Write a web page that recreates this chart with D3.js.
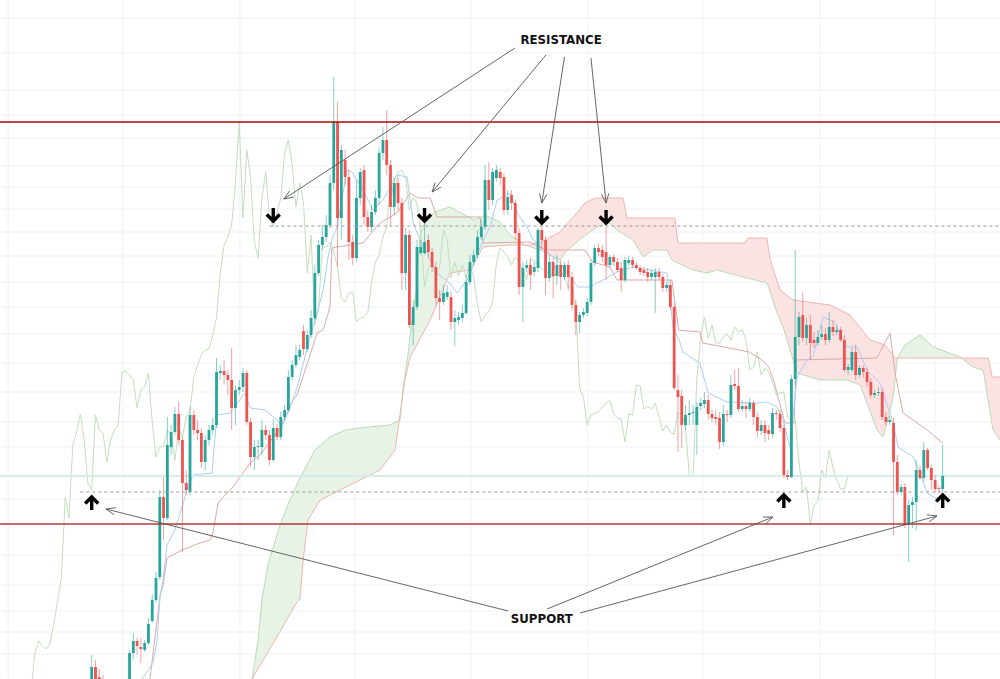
<!DOCTYPE html>
<html><head><meta charset="utf-8">
<script src="https://cdn.jsdelivr.net/npm/d3@7"></script>
<style>html,body{margin:0;padding:0;background:#fff}svg{display:block}</style>
</head><body>
<svg id="chart" width="1000" height="679"></svg>
<script>
// ---------- DATA (price units are chart units) ----------
// candles: [open, high, low, close], one per daily bar, bar 0 first
const candles = [
[65,95,60,83],[83,90,60,67],[73,81,60,68],[68,75,55,60],[60,66,50,55],[55,62,45,50],[50,58,44,54],[54,60,48,58],[58,64,50,56],[56,64,50,60],
[60,100,58,97],[97,117,90,109],[109,112,95,104],[103,112,87,101],[100,110,98,107],[107,132,105,126],[129,156,127,150],[150,178,148,172],[173,260,170,253],[253,273,210,232],
[232,333,230,305],[303,325,295,318],[318,343,315,336],[336,348,305,310],[310,313,198,267],[267,280,255,260],[258,343,255,335],[335,340,315,320],[320,330,310,317],[317,322,282,288],
[288,315,280,310],[310,325,305,320],[320,332,315,325],[325,392,322,378],[377,385,370,379],[379,390,365,375],[375,380,355,370],[370,402,320,342],[342,365,325,360],[360,370,355,363],
[363,382,358,377],[377,380,325,328],[328,332,283,293],[293,310,280,303],[303,310,290,304],[303,330,295,320],[320,325,310,315],[315,320,285,290],[290,330,288,322],[322,326,310,313],
[313,338,310,333],[333,345,330,340],[340,380,338,373],[373,390,370,385],[385,405,382,395],[393,405,390,400],[419,425,395,401],[401,420,398,415],[415,440,412,432],[432,485,430,477],
[477,510,474,505],[505,525,500,513],[513,535,508,525],[525,575,522,567],[567,673,560,628],[628,648,483,532],[532,605,510,600],[590,600,565,573],[573,580,490,508],[508,515,485,492],
[492,570,488,552],[552,582,545,578],[580,585,525,533],[533,540,518,523],[523,545,518,538],[538,560,535,552],[552,602,545,597],[597,623,590,610],[610,640,575,585],[585,590,525,543],
[543,572,535,567],[567,572,540,547],[547,552,460,477],[477,522,460,515],[515,520,422,425],[425,450,405,443],[443,510,440,503],[497,510,495,503],[497,527,495,508],[510,515,492,498],
[498,502,478,483],[483,488,445,452],[452,460,430,448],[448,465,445,457],[453,465,450,458],[453,458,420,428],[428,440,404,432],[430,438,425,433],[432,445,428,437],[437,475,435,468],
[468,495,465,488],[488,500,485,495],[495,520,492,513],[513,530,510,523],[523,585,520,570],[570,588,540,550],[550,582,545,578],[572,585,568,580],[578,582,565,572],[573,577,535,540],
[540,560,535,553],[555,560,540,547],[547,550,510,517],[517,522,455,463],[463,488,428,482],[482,490,478,485],[485,492,460,475],[478,488,474,483],[482,522,478,520],[520,524,500,510],
[510,514,455,472],[472,495,468,488],[488,492,452,474],[474,495,465,485],[485,490,460,473],[473,488,470,485],[485,490,460,473],[473,478,440,445],[445,450,415,428],[428,438,417,435],
[435,442,432,438],[437,452,434,448],[448,490,445,487],[487,505,484,502],[502,506,494,498],[500,505,488,493],[498,523,470,485],[485,495,482,493],[493,496,484,488],[488,492,478,480],
[482,488,458,470],[470,493,468,490],[487,494,484,490],[490,493,482,485],[485,488,480,482],[482,485,475,478],[480,483,474,477],[478,482,468,473],[473,480,470,477],[473,482,437,478],
[478,482,470,473],[473,476,458,462],[462,468,458,465],[465,470,440,443],[443,447,360,362],[360,375,298,353],[354,360,302,325],[325,345,320,335],[335,350,325,337],[337,345,325,338],
[325,348,295,343],[344,352,340,347],[346,358,342,350],[350,355,330,336],[336,340,328,332],[333,340,325,331],[332,338,301,308],[308,345,304,336],[336,340,328,335],[335,375,332,365],
[366,380,360,364],[364,382,338,341],[341,350,338,344],[344,348,332,341],[341,352,338,347],[347,350,325,333],[333,338,313,319],[319,330,315,325],[325,330,308,317],[320,325,310,316],
[316,342,312,337],[337,340,330,336],[336,340,318,322],[322,325,272,275],[275,280,270,273],[273,375,272,371],[371,500,365,413],[413,438,405,433],[435,458,408,412],[412,432,405,425],
[425,435,390,407],[410,418,402,407],[407,420,404,413],[413,425,410,416],[416,422,405,410],[410,438,407,423],[423,430,414,418],[418,425,415,420],[420,423,408,410],[410,415,378,380],
[380,386,375,383],[380,402,378,398],[398,405,370,375],[375,385,372,382],[382,385,372,378],[378,382,363,368],[368,372,352,355],[355,360,352,357],[357,363,354,358],[358,362,330,333],
[333,338,325,328],[328,334,325,330],[327,332,215,288],[288,295,255,258],[258,266,255,263],[263,267,222,225],[225,250,188,245],[245,253,222,248],[248,290,220,280],[280,285,270,272],
[272,308,268,300],[300,302,280,282],[282,285,260,270],[270,275,258,261],[262,265,258,261],[261,305,258,274]
];

// Ichimoku lines: [bar, value]
const tenkan = [[12.8,68],[16.2,87],[17.3,110],[18.1,155],[18.9,170],[19.9,205],[22,220],[23.9,243],[25.2,260],[26.8,275],[31.8,277],[33.1,335],[36.6,337],[40.5,357],[41.9,342],[45.8,340],[49,330],[50.3,323],[52.4,342],[54.3,362],[57.7,413],[59.6,437],[61.2,460],[62.5,493],[63.5,510],[64.9,523],[67.5,580],[68.8,578],[71.7,560],[74.4,540],[77,550],[80.7,575],[83.4,573],[85,527],[86.8,510],[91.3,477],[94.7,467],[96.6,457],[99.2,470],[100.8,483],[102.7,503],[105.3,523],[107.2,550],[110.6,557],[112.5,537],[115.1,523],[116.7,510],[123.8,487],[126.5,473],[128.6,463],[131.8,463],[133.6,467],[136.2,472],[138.9,478],[143.1,483],[152.1,477],[153.7,423],[155.6,407],[156.3,398],[160.8,387],[163,357],[168,348],[175.9,347],[178.6,348],[181.2,343],[182.8,330],[184.6,303],[186.5,373],[189.1,390],[190.7,393],[193.4,433],[195.2,430],[196.5,427],[199.7,403],[202.4,403],[205,380],[208.4,367],[209.2,358],[211.9,327],[213.2,303],[215.6,297],[217.2,293],[219,277],[220.9,257],[223,252],[225,253]];
const kijun = [[15.4,71],[18.1,155],[18.9,165],[19.9,192],[23.9,200],[28.6,207],[31.3,210],[32.1,218],[33.4,247],[35.8,257],[37.4,263],[41.1,283],[41.9,287],[44.5,295],[49.8,322],[53.2,350],[54.3,355],[59.6,417],[61.2,420],[63,443],[63.5,502],[64.9,503],[71.7,507],[76.2,527],[80.7,537],[84.2,557],[86.3,552],[89.5,552],[91.3,533],[102.7,533],[103.5,507],[115.9,508],[119.9,500],[130.4,500],[132.5,488],[137,483],[138.9,470],[153.4,470],[154.4,442],[155.2,420],[160.8,418],[161.6,407],[171.2,400],[173.8,398],[177.2,390],[179,383],[180.3,370],[181.8,348],[183.3,327],[185.7,327],[186.3,390],[207.6,392],[211.1,417],[212.4,377],[214.5,337],[220.9,320],[225,307]];
const spanA = [[42.4,71],[44,110],[45,150],[46.6,185],[49.8,225],[52.4,250],[55.1,272],[59,300],[63,313],[67,320],[70.9,322],[78.9,325],[81.5,330],[82.3,360],[83.6,395],[84.7,430],[85.8,460],[86.8,515],[88.1,528],[90.8,538],[94.7,543],[98.7,535],[101.3,530],[104,535],[108,528],[110.6,515],[114.6,505],[118.5,500],[123.8,490],[125.7,500],[129.9,513],[133.6,523],[137,527],[138.9,520],[143.1,510],[145.8,493],[148.4,500],[152.1,500],[153.4,490],[159,480],[162.7,477],[165.3,480],[172.2,473],[178.6,467],[181.2,437],[182.8,423],[186.5,377],[192.6,370],[199.7,370],[203.2,365],[205,347],[207.6,320],[209.2,313],[210.5,330],[211.9,353],[213,392],[215,405],[219,415],[222.5,403],[229.6,393],[233,383],[235.7,380],[238.3,320],[240.2,310]];
const spanB = [[42.4,71],[48.5,110],[53.8,145],[55.1,152],[55.9,190],[57.2,230],[60.4,250],[65.7,260],[70.9,270],[76.2,280],[80.2,300],[82.8,370],[84.2,393],[89.5,430],[94.7,477],[100,480],[103.5,503],[110.6,505],[115.9,505],[119.9,510],[123.8,518],[127.8,535],[130.4,547],[133.1,552],[140.5,552],[141.5,532],[154.2,532],[155,507],[172.7,507],[173.5,512],[178.5,512],[179.4,490],[182,460],[185.4,450],[195.2,445],[200.5,435],[205.8,410],[209.8,405],[212.4,392],[237,392],[238.1,373],[240.2,373]];
const laggingShift = 25; // lagging span = closes plotted 25 bars back

// grid
const gridBars = [-22.1, 8.3, 39.2, 69.6, 100.3, 131.2, 161.6, 192.6, 223];
const gridPrices = [732, 697, 660, 635, 612, 584, 563, 541, 518, 494, 468, 443, 416, 387, 358, 328, 303, 251, 195, 165, 139, 118, 96];

// levels
const resistanceLevel = 628;
const supportLevel = 226;
const dashedLevels = [[524, 47], [258, -3]]; // [price, starting bar]

// markers [bar, price] (tip of arrow)
const downMarkers = [[48, 527], [88, 527], [119, 525], [136, 525]];
const upMarkers = [[0, 255], [183, 257], [225, 257]];

// annotations
const labelTexts = ["RESISTANCE", "SUPPORT"];
const labelAnchors = [[124.1, 706], [119, 127]];
const resistancePointers = [[[111.9,702],[50.8,551]], [[120.1,695],[90,558]], [[125,693],[119,547]], [[132,692],[136,547]]];
const supportPointers = [[[110.1,139],[3.8,241]], [[120.4,141],[180.1,233]], [[129.1,137],[223.5,234]]];

// ---------- DRAWING ----------
const W = 1000, H = 679;
const svg = d3.select("#chart");
const x = d3.scaleLinear().domain([0, 225]).range([91.7, 942.7]);
const y = d3.scaleLinear().domain([0, 750]).range([750, 0]);
const step = x(1) - x(0);

// grid
const g0 = svg.append("g");
g0.selectAll("line.v").data(gridBars).join("line")
  .attr("x1", d => x(d)).attr("x2", d => x(d)).attr("y1", 0).attr("y2", H)
  .attr("stroke", "#eef1f6").attr("stroke-width", 1);
g0.selectAll("line.h").data(gridPrices).join("line")
  .attr("x1", 0).attr("x2", W).attr("y1", d => y(d)).attr("y2", d => y(d))
  .attr("stroke", "#eef1f6").attr("stroke-width", 1);

// cloud
const defs = svg.append("defs");
const below = d3.area().x(d => x(d[0])).y0(H + 50).y1(d => y(d[1]));
const above = d3.area().x(d => x(d[0])).y0(-50).y1(d => y(d[1]));
defs.append("clipPath").attr("id", "belowA").append("path").attr("d", below(spanA));
defs.append("clipPath").attr("id", "belowB").append("path").attr("d", below(spanB));
svg.append("path").attr("d", above(spanB)).attr("clip-path", "url(#belowA)").attr("fill", "#e7f3e7");
svg.append("path").attr("d", above(spanA)).attr("clip-path", "url(#belowB)").attr("fill", "#fce3e3");

const line = d3.line().x(d => x(d[0])).y(d => y(d[1]));
svg.append("path").attr("d", line(spanA)).attr("fill", "none").attr("stroke", "#b9dcb6").attr("stroke-width", 1);
svg.append("path").attr("d", line(spanB)).attr("fill", "none").attr("stroke", "#f0b4b0").attr("stroke-width", 1);

// lagging span
const lagging = candles.map((c, i) => [i - laggingShift, c[3]]);
svg.append("path").attr("d", line(lagging)).attr("fill", "none").attr("stroke", "#c3dfba").attr("stroke-width", 1);
svg.append("path").attr("d", line(kijun)).attr("fill", "none").attr("stroke", "#dcaaa6").attr("stroke-width", 1);
svg.append("path").attr("d", line(tenkan)).attr("fill", "none").attr("stroke", "#a9cff3").attr("stroke-width", 1);

// last price line
const lastClose = candles[candles.length - 1][3];
svg.append("line").attr("x1", 0).attr("x2", W).attr("y1", y(lastClose)).attr("y2", y(lastClose))
  .attr("stroke", "#d6ecea").attr("stroke-width", 2);

// candles
const bw = step * 0.74;
const cg = svg.append("g");
cg.selectAll("line").data(candles).join("line")
  .attr("x1", (d, i) => x(i)).attr("x2", (d, i) => x(i))
  .attr("y1", d => y(d[1])).attr("y2", d => y(d[2]))
  .attr("stroke", d => d[3] >= d[0] ? "#26a69a" : "#ef5350").attr("stroke-opacity", 0.55).attr("stroke-width", 1);
cg.selectAll("rect").data(candles).join("rect")
  .attr("x", (d, i) => x(i) - bw / 2).attr("width", bw)
  .attr("y", d => y(Math.max(d[0], d[3])))
  .attr("height", d => Math.max(1, Math.abs(y(d[0]) - y(d[3]))))
  .attr("fill", d => d[3] >= d[0] ? "#26a69a" : "#ef5350");

// levels
svg.selectAll("line.lvl").data(dashedLevels).join("line")
  .attr("x1", d => x(d[1])).attr("x2", W).attr("y1", d => y(d[0])).attr("y2", d => y(d[0]))
  .attr("stroke", "#9a9a9a").attr("stroke-width", 1).attr("stroke-dasharray", "3,3");
svg.append("line").attr("x1", 0).attr("x2", W).attr("y1", y(resistanceLevel)).attr("y2", y(resistanceLevel))
  .attr("stroke", "#a50d0d").attr("stroke-width", 1.6);
svg.append("line").attr("x1", 0).attr("x2", W).attr("y1", y(supportLevel)).attr("y2", y(supportLevel))
  .attr("stroke", "#b03a3a").attr("stroke-width", 1.6);

// pointers
function pointer(p) {
  const x1 = x(p[0][0]), y1 = y(p[0][1]), x2 = x(p[1][0]), y2 = y(p[1][1]);
  const a = Math.atan2(y2 - y1, x2 - x1), L = 10, s = 0.38;
  const pa = [x2 - L * Math.cos(a - s), y2 - L * Math.sin(a - s)];
  const pb = [x2 - L * Math.cos(a + s), y2 - L * Math.sin(a + s)];
  return `M${x1},${y1}L${x2},${y2}M${pa[0]},${pa[1]}L${x2},${y2}L${pb[0]},${pb[1]}`;
}
svg.selectAll("path.ptr").data(resistancePointers.concat(supportPointers)).join("path")
  .attr("d", pointer).attr("fill", "none").attr("stroke", "#555").attr("stroke-width", 0.9);

// markers
const arrowDown = "M0,-15V-3M-6.5,-8.5L0,-2L6.5,-8.5";
const mg = svg.append("g");
mg.selectAll("path.dn").data(downMarkers).join("path")
  .attr("transform", d => `translate(${x(d[0])},${y(d[1])})`).attr("d", arrowDown)
  .attr("fill", "none").attr("stroke", "#000").attr("stroke-width", 3.4);
mg.selectAll("path.up").data(upMarkers).join("path")
  .attr("transform", d => `translate(${x(d[0])},${y(d[1])}) scale(1,-1)`).attr("d", arrowDown)
  .attr("fill", "none").attr("stroke", "#000").attr("stroke-width", 3.4);

// labels
svg.selectAll("text.lbl").data(labelTexts).join("text")
  .attr("x", (d, i) => x(labelAnchors[i][0])).attr("y", (d, i) => y(labelAnchors[i][1]))
  .attr("text-anchor", "middle").attr("font-family", "DejaVu Sans, Verdana, sans-serif")
  .attr("font-weight", "bold").attr("font-size", 11.8).attr("fill", "#111").text(d => d);
</script>
</body></html>
